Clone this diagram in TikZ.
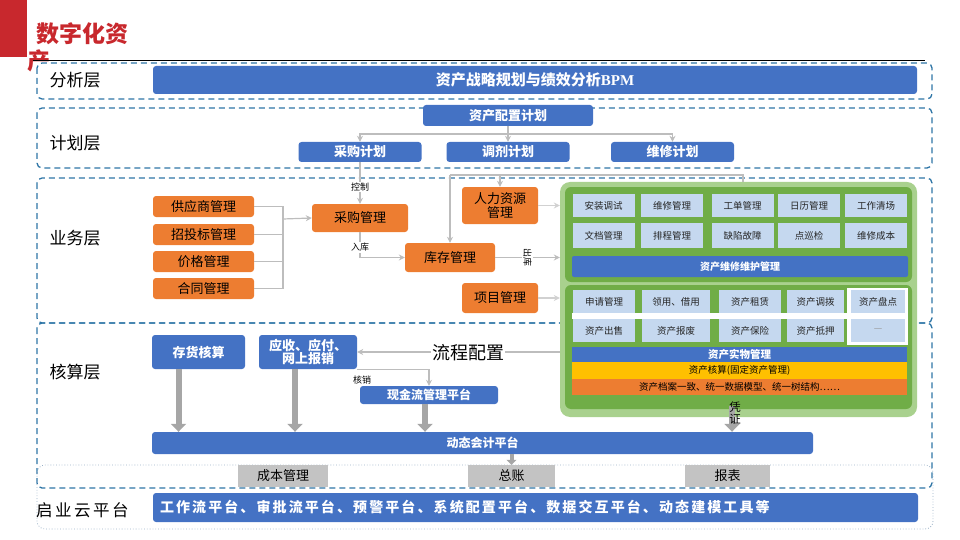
\documentclass[tikz,border=0pt]{standalone}
\usepackage{fontspec}
\setmainfont{Noto Sans CJK SC}
\newfontfamily\spacedcjk[LetterSpace=15]{Noto Sans CJK SC}
\newfontfamily\latinserif{Liberation Serif}
\usepackage{tikz}
\usetikzlibrary{positioning}
\usetikzlibrary{arrows.meta}
\usepackage{xcolor}
\definecolor{titlered}{HTML}{C8282D}
\definecolor{barblue}{HTML}{4472C4}
\definecolor{boxorange}{HTML}{ED7D31}
\definecolor{cellblue}{HTML}{C5D8EF}
\definecolor{greenlight}{HTML}{A9D18E}
\definecolor{greendark}{HTML}{70AD47}
\definecolor{baryellow}{HTML}{FFC000}
\definecolor{boxgray}{HTML}{C3C3C3}
\definecolor{linegray}{HTML}{BDBDBD}
\definecolor{arrowgray}{HTML}{A6A6A6}
\definecolor{dashblue}{HTML}{2E75A6}
\definecolor{dotblue}{HTML}{9AB0C6}
\newcommand{\fsz}[1]{\fontsize{#1}{#1}\selectfont}

\begin{document}
\begin{tikzpicture}[x=1pt, y=-1pt,
    bluebar/.style={rectangle, rounded corners=3pt, fill=barblue, text=white, font=\fsz{13}\bfseries, inner sep=0pt},
    orangebox/.style={rectangle, rounded corners=3pt, fill=boxorange, text=black, font=\fsz{13}, inner sep=0pt, align=center},
    gridcell/.style={rectangle, fill=cellblue, text=black!85, font=\fsz{9.5}, inner sep=0pt, minimum height=23pt},
    stripe/.style={rectangle, inner sep=0pt, minimum width=335pt, font=\fsz{9.5}},
    graybox/.style={rectangle, fill=boxgray, text=black, font=\fsz{13}, inner sep=0pt, minimum height=22pt},
    layer/.style={draw=dashblue, line width=1.3pt, dash pattern=on 6pt off 4pt, rounded corners=5pt},
    layername/.style={anchor=west, font=\fsz{17}},
    link/.style={draw=linegray, line width=1.2pt},
    linkarrow/.style={link, -{Stealth[length=6pt,width=6pt]}},
    fatarrow/.style={draw=arrowgray, line width=6pt, -{Triangle[length=8pt,width=15pt]}},
    linklabel/.style={font=\fsz{9}, fill=white, inner sep=1pt}
  ]
  \useasboundingbox (0,0) rectangle (960,540);

  % title
  \fill[titlered] (0,0) rectangle (27,57);
  \node[anchor=west, text=titlered, font=\fsz{23}\bfseries, inner sep=0pt] (title) at (36,34) {数字化资};
  \node[anchor=west, text=titlered, font=\fsz{23}\bfseries, inner sep=0pt] (titlewrap) at (27,61) {产};
  \draw[black, line width=0.6pt] (33,60) -- (925,60);

  % layers
  \draw[layer] (37,63) rectangle (932,99);
  \draw[layer] (37,108) rectangle (932,168);
  \draw[layer] (37,178) rectangle (932,323);
  \draw[layer] (37,323) rectangle (932,488);
  \draw[dotblue, line width=0.8pt, dotted, rounded corners=8pt] (37,465) rectangle (933,529);

  \node[layername] (lanalysis) at (46,80) {分析层};
  \node[layername] (lplan) at (46,143) {计划层};
  \node[layername] (lbiz) at (46,238) {业务层};
  \node[layername] (lacc) at (46,372) {核算层};
  \node[layername, font=\spacedcjk\fsz{16.5}, inner sep=0pt] (lcloud) at (36,510) {启业云平台};

  % analysis
  \node[bluebar, minimum width=764pt, minimum height=28pt, font=\fsz{15}\bfseries] (bpm) at (535,80) {资产战略规划与绩效分析{\latinserif\bfseries BPM}};

  % planning
  \node[bluebar, minimum width=170pt, minimum height=21pt] (cfgplan) at (508,115.5) {资产配置计划};
  \node[bluebar, minimum width=123pt, minimum height=20pt] (buyplan) at (360,152) {采购计划};
  \node[bluebar, minimum width=123pt, minimum height=20pt] (allocplan) at (508,152) {调剂计划};
  \node[bluebar, minimum width=123pt, minimum height=20pt] (fixplan) at (672.5,152) {维修计划};
  \coordinate (planbus) at (508,134);
  \draw[linkarrow] (planbus) -| (buyplan.north);
  \draw[linkarrow] (planbus) -| (fixplan.north);
  \draw[linkarrow] (cfgplan.south) -- (allocplan.north);

  % business
  \node[orangebox, minimum width=101pt, minimum height=21pt] (supplier) at (203.5,206.5) {供应商管理};
  \node[orangebox, minimum width=101pt, minimum height=21pt] (tender) at (203.5,234.5) {招投标管理};
  \node[orangebox, minimum width=101pt, minimum height=21pt] (price) at (203.5,261.5) {价格管理};
  \node[orangebox, minimum width=101pt, minimum height=21pt] (contract) at (203.5,288.5) {合同管理};
  \node[orangebox, minimum width=96pt, minimum height=28pt] (purchase) at (360,218) {采购管理};
  \node[orangebox, minimum width=90pt, minimum height=29pt] (stock) at (450,257.5) {库存管理};
  \node[orangebox, minimum width=76pt, minimum height=37pt] (hr) at (500,205.5) {人力资源\\[1pt]管理};
  \node[orangebox, minimum width=76pt, minimum height=30pt] (project) at (500,298) {项目管理};

  \coordinate (srcbus) at (283,219);
  \foreach \n in {supplier, tender, price, contract}
    \draw[link] (\n.east) -| (srcbus);
  \draw[linkarrow] (srcbus) -- (purchase.west);
  \draw[linkarrow] (buyplan.south) -- node[linklabel, pos=0.6] {控制} (purchase.north);
  \draw[linkarrow] (purchase.south) |- node[linklabel, pos=0.3] {入库} (stock.west);

  % asset management block
  \node[rectangle, rounded corners=10pt, fill=greenlight, minimum width=357pt, minimum height=235pt, inner sep=0pt] (greenbox) at (738.5,299.5) {};
  \fill[greendark, rounded corners=6pt] (565,187) rectangle (912,282);
  \fill[greendark, rounded corners=6pt] (565,285) rectangle (912,409);

  \coordinate (greentap) at (743,182);
  \coordinate (topbus) at (450,175);
  \draw[link] (greentap) |- (topbus);
  \draw[linkarrow] (topbus) -- (stock.north);
  \draw[linkarrow] (hr.north |- topbus) -- (hr.north);
  \draw[linkarrow, draw=linegray!70] (hr.east) -- (hr.east -| greenbox.west);
  \draw[linkarrow, draw=linegray!70] (project.east) -- (project.east -| greenbox.west);
  \draw[linkarrow] (stock.east) -- node[linklabel, rotate=-90, font=\fsz{9}] {出库} (stock.east -| greenbox.west);

  \foreach \cx/\txt [count=\i] in {603.5/安装调试, 672/维修管理, 742.5/工单管理, 809/日历管理, 876/工作清场}
    \node[gridcell, minimum width=62pt] (mrow\i) at (\cx,205.5) {\txt};
  \foreach \cx/\txt [count=\i] in {603.5/文档管理, 672/排程管理, 742.5/缺陷故障, 809/点巡检, 876/维修成本}
    \node[gridcell, minimum width=62pt, minimum height=25pt] (nrow\i) at (\cx,235.5) {\txt};
  \node[bluebar, rounded corners=2pt, minimum width=336pt, minimum height=21pt, font=\fsz{10}\bfseries] (maintbar) at (740,266.5) {资产维修维护管理};

  \fill[white] (572,313) rectangle (908,319);
  \fill[white] (847,288) rectangle (908,345);
  \foreach \cx/\cw/\txt [count=\i] in {604/62/申请管理, 676/68/{领用、借用}, 750/62/资产租赁, 815.5/57/资产调拨, 878/54/资产盘点}
    \node[gridcell, minimum width=\cw pt] (arow\i) at (\cx,301.5) {\txt};
  \foreach \cx/\cw/\txt [count=\i] in {604/62/资产出售, 676/68/资产报废, 750/62/资产保险, 815.5/57/资产抵押, 878/54/{\color{black!40}—}}
    \node[gridcell, minimum width=\cw pt] (brow\i) at (\cx,330.5) {\txt};

  \node[stripe, fill=barblue, text=white, minimum height=15pt, font=\fsz{10.5}\bfseries] (physbar) at (739.5,354.5) {资产实物管理};
  \node[stripe, fill=baryellow, text=black, minimum height=16.5pt, below=0pt of physbar] (assetacc) {资产核算(固定资产管理)};
  \node[stripe, fill=boxorange, text=black, minimum height=16pt, below=0pt of assetacc] (archive) {资产档案一致、统一数据模型、统一树结构……};

  % accounting
  \node[bluebar, minimum width=661pt, minimum height=22pt, font=\fsz{12}\bfseries] (acctplat) at (482.5,443) {动态会计平台};
  \node[bluebar, minimum width=93pt, minimum height=34pt] (stockacc) at (198.5,352) {存货核算};
  \node[bluebar, minimum width=98pt, minimum height=34pt, align=center] (arap) at (308,352) {应收、应付、\\网上报销};
  \node[bluebar, minimum width=138pt, minimum height=18pt, font=\fsz{12}\bfseries] (cash) at (429,395) {现金流管理平台};

  \draw[linkarrow] (greenbox.west |- arap.east) -- (arap.east);
  \node[font=\fsz{18}, fill=white, inner sep=1pt] (flowcfg) at (468,353) {流程配置};
  \draw[linkarrow] (arap.south east) -| (cash.north);
  \node[font=\fsz{9}] (writeoff) at (362,380) {核销};

  \draw[fatarrow] ([xshift=-20pt]stockacc.south) -- ([xshift=-20pt]stockacc.south |- acctplat.north);
  \draw[fatarrow] ([xshift=-13pt]arap.south) -- ([xshift=-13pt]arap.south |- acctplat.north);
  \draw[fatarrow] ([xshift=-4pt]cash.south) -- ([xshift=-4pt]cash.south |- acctplat.north);
  \coordinate (vouchertap) at (732,406);
  \draw[fatarrow] (vouchertap) -- (vouchertap |- acctplat.north);
  \node[font=\fsz{11.5}, align=center, inner sep=0pt] (voucher) at (735,413) {凭\\证};

  % ledgers
  \node[graybox, minimum width=90pt] (cost) at (283,476) {成本管理};
  \node[graybox, minimum width=87pt] (ledger) at (511.5,476) {总账};
  \node[graybox, minimum width=85pt] (report) at (727.5,476) {报表};
  \draw[fatarrow, line width=4pt, -{Triangle[length=5pt,width=10pt]}] (acctplat.south -| ledger.north) -- (ledger.north);

  % platform
  \node[bluebar, minimum width=765pt, minimum height=29pt, text width=751pt, inner xsep=7pt, align=left, font=\spacedcjk\fsz{14}\bfseries] (cloudbar) at (535.5,507.5) {工作流平台、审批流平台、预警平台、系统配置平台、数据交互平台、动态建模工具等};
\end{tikzpicture}
\end{document}
